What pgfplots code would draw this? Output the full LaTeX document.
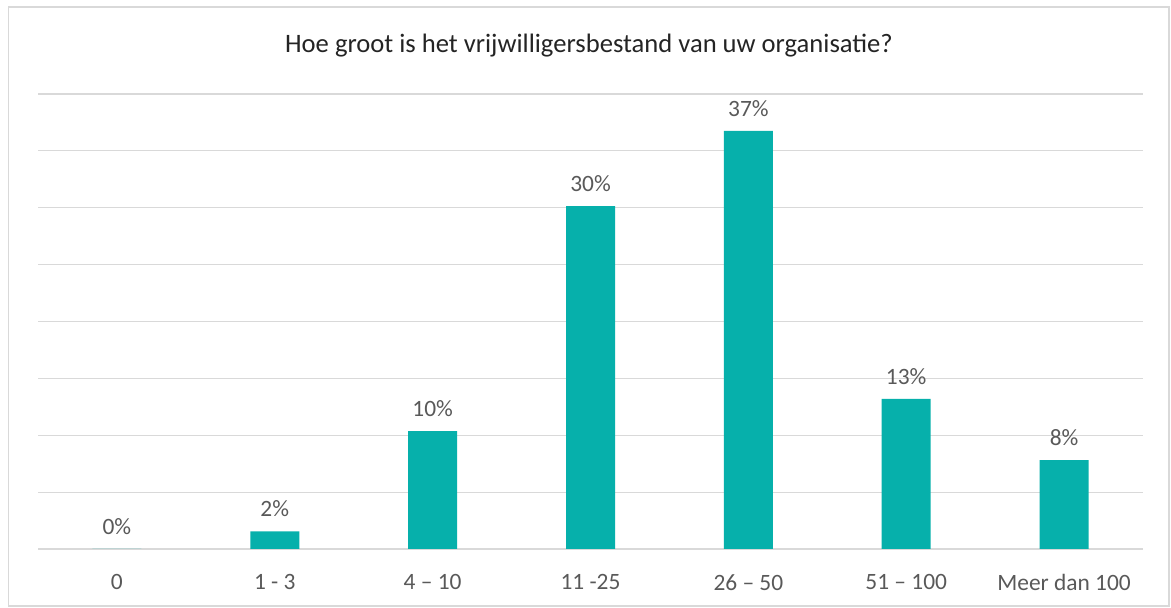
\documentclass[border=0pt]{standalone}
\usepackage{pgfplots}
\pgfplotsset{compat=1.18}
\usepackage{fontspec}
\setmainfont{Carlito}
\definecolor{barteal}{HTML}{06B0AB}
\definecolor{txtgray}{HTML}{595959}
\definecolor{gridgray}{HTML}{D9D9D9}
\begin{document}
\begin{tikzpicture}[x=1bp,y=1bp]
\useasboundingbox (0,0) rectangle (1171,608);
\draw[gridgray, line width=1.2bp] (8.5,2) rectangle (1169,601);
\node[txtgray!40!black, font=\fontsize{26.7}{30}\selectfont, anchor=base, inner sep=0pt] at (589,555) {Hoe groot is het vrijwilligersbestand van uw organisatie?};
\begin{axis}[
  at={(38bp,59bp)}, anchor=south west,
  scale only axis, width=1105bp, height=455bp,
  xmin=-0.5, xmax=6.5, ymin=0, ymax=40,
  axis line style={draw=none},
  ytick={0,5,...,40}, yticklabels={},
  ymajorgrids, grid style={gridgray, line width=1.2bp},
  major tick length=0pt,
  xtick={0,...,6},
  xticklabels={0,1 - 3,4 -- 10,11 -25,26 -- 50,51 -- 100,Meer dan 100},
  xticklabel style={txtgray, font=\fontsize{23.5}{27}\selectfont, yshift=-22bp},
  ybar, bar width=49bp,
  /pgf/number format/assume math mode=true,
  nodes near coords={\pgfmathprintnumber[fixed,precision=0,assume math mode=true]{\pgfplotspointmeta}\%},
  nodes near coords style={txtgray, font=\fontsize{23.5}{27}\selectfont, yshift=11bp},
  clip=false,
]
\addplot[fill=barteal, draw=none] coordinates {(0,0) (1,1.55) (2,10.37) (3,30.15) (4,36.75) (5,13.19) (6,7.82)};
\end{axis}
\end{tikzpicture}
\end{document}
